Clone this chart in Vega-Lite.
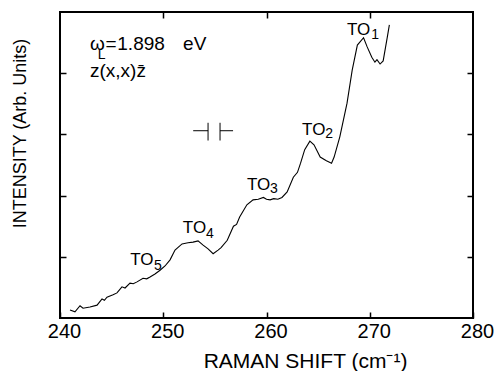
{
  "$schema": "https://vega.github.io/schema/vega-lite/v6.json",
  "width": 413,
  "height": 306,
  "autosize": "none",
  "padding": {"left": 60, "top": 12, "right": 22, "bottom": 53},
  "background": "white",
  "config": {
    "view": {"stroke": "black", "strokeWidth": 2},
    "font": "Liberation Sans",
    "axis": {
      "domain": false,
      "grid": false,
      "tickColor": "black",
      "tickWidth": 1.5,
      "tickSize": -6,
      "labelColor": "black",
      "labelFont": "Liberation Sans",
      "labelFontSize": 20,
      "titleFont": "Liberation Sans",
      "titleFontSize": 20,
      "titleFontWeight": "normal",
      "titleColor": "black"
    }
  },
  "datasets": {
    "spectrum": [
      {"shift": 240.97, "intensity": 0.13},
      {"shift": 241.45, "intensity": 0.10},
      {"shift": 241.94, "intensity": 0.20},
      {"shift": 242.23, "intensity": 0.16},
      {"shift": 242.9, "intensity": 0.18},
      {"shift": 243.59, "intensity": 0.21},
      {"shift": 244.07, "intensity": 0.31},
      {"shift": 244.3, "intensity": 0.29},
      {"shift": 244.55, "intensity": 0.34},
      {"shift": 244.84, "intensity": 0.36},
      {"shift": 245.14, "intensity": 0.38},
      {"shift": 245.52, "intensity": 0.41},
      {"shift": 246.0, "intensity": 0.51},
      {"shift": 246.3, "intensity": 0.49},
      {"shift": 246.78, "intensity": 0.57},
      {"shift": 247.1, "intensity": 0.56},
      {"shift": 247.46, "intensity": 0.59},
      {"shift": 248.04, "intensity": 0.65},
      {"shift": 248.4, "intensity": 0.64},
      {"shift": 248.72, "intensity": 0.67},
      {"shift": 249.2, "intensity": 0.72},
      {"shift": 249.69, "intensity": 0.78},
      {"shift": 250.17, "intensity": 0.85},
      {"shift": 250.66, "intensity": 0.95},
      {"shift": 251.14, "intensity": 1.11},
      {"shift": 251.82, "intensity": 1.21},
      {"shift": 252.4, "intensity": 1.23},
      {"shift": 252.89, "intensity": 1.24},
      {"shift": 253.37, "intensity": 1.26},
      {"shift": 253.86, "intensity": 1.19},
      {"shift": 254.34, "intensity": 1.13},
      {"shift": 254.83, "intensity": 1.05},
      {"shift": 255.31, "intensity": 1.11},
      {"shift": 255.6, "intensity": 1.15},
      {"shift": 256.2, "intensity": 1.27},
      {"shift": 256.8, "intensity": 1.5},
      {"shift": 257.1, "intensity": 1.53},
      {"shift": 257.4, "intensity": 1.65},
      {"shift": 258.1, "intensity": 1.85},
      {"shift": 258.7, "intensity": 1.93},
      {"shift": 259.2, "intensity": 1.94},
      {"shift": 259.7, "intensity": 1.97},
      {"shift": 260.0, "intensity": 1.94},
      {"shift": 260.35, "intensity": 1.93},
      {"shift": 260.7, "intensity": 1.95},
      {"shift": 261.1, "intensity": 1.94},
      {"shift": 261.5, "intensity": 1.97},
      {"shift": 262.0, "intensity": 2.06},
      {"shift": 262.6, "intensity": 2.3},
      {"shift": 263.0, "intensity": 2.38},
      {"shift": 263.3, "intensity": 2.53},
      {"shift": 263.7, "intensity": 2.75},
      {"shift": 264.2, "intensity": 2.89},
      {"shift": 264.6, "intensity": 2.83},
      {"shift": 265.2, "intensity": 2.63},
      {"shift": 265.8, "intensity": 2.57},
      {"shift": 266.3, "intensity": 2.53},
      {"shift": 266.55, "intensity": 2.63},
      {"shift": 267.1, "intensity": 2.96},
      {"shift": 267.8, "intensity": 3.51},
      {"shift": 268.3, "intensity": 4.05},
      {"shift": 268.8, "intensity": 4.46},
      {"shift": 269.4, "intensity": 4.58},
      {"shift": 269.75, "intensity": 4.43},
      {"shift": 270.2, "intensity": 4.26},
      {"shift": 270.5, "intensity": 4.18},
      {"shift": 270.7, "intensity": 4.22},
      {"shift": 271.0, "intensity": 4.15},
      {"shift": 271.3, "intensity": 4.2},
      {"shift": 271.7, "intensity": 4.59},
      {"shift": 271.9, "intensity": 4.79}
    ],
    "slit": [
      {"x": 252.9, "x2": 254.34, "y": 3.06, "y2": 3.06},
      {"x": 254.34, "x2": 254.34, "y": 2.9, "y2": 3.19},
      {"x": 255.5, "x2": 255.5, "y": 2.9, "y2": 3.19},
      {"x": 255.5, "x2": 256.76, "y": 3.06, "y2": 3.06}
    ],
    "labels": [
      {"x": 267.8, "y": 4.62, "text": "TO"},
      {"x": 263.45, "y": 2.99, "text": "TO"},
      {"x": 258.1, "y": 2.09, "text": "TO"},
      {"x": 251.9, "y": 1.39, "text": "TO"},
      {"x": 246.8, "y": 0.87, "text": "TO"}
    ],
    "notes": [
      {"x": 242.9, "y": 4.38, "text": "ω"},
      {"x": 244.4, "y": 4.38, "text": "="},
      {"x": 245.55, "y": 4.38, "text": "1.898"},
      {"x": 251.92, "y": 4.38, "text": "eV"},
      {"x": 242.9, "y": 3.94, "text": "z(x,x)z̄"}
    ],
    "subs": [
      {"x": 270.14, "y": 4.56, "text": "1"},
      {"x": 265.7, "y": 2.94, "text": "2"},
      {"x": 260.35, "y": 2.04, "text": "3"},
      {"x": 254.15, "y": 1.31, "text": "4"},
      {"x": 249.1, "y": 0.78, "text": "5"},
      {"x": 243.65, "y": 4.24, "text": "L"}
    ]
  },
  "resolve": {"axis": {"x": "independent", "y": "independent"}},
  "layer": [
    {
      "data": {"name": "spectrum"},
      "mark": {"type": "line", "color": "black", "strokeWidth": 1.1, "interpolate": "linear"},
      "encoding": {
        "x": {
          "field": "shift", "type": "quantitative",
          "scale": {"domain": [240, 280], "nice": false, "zero": false},
          "axis": {
            "values": [240, 250, 260, 270, 280],
            "title": "RAMAN SHIFT (cm⁻¹)",
            "titleFontSize": 21,
            "labelPadding": 9,
            "labelOffset": 4,
            "titleX": 245, "titleY": 49,
            "titleAlign": "center", "titleBaseline": "alphabetic",
            "labelFlush": false
          }
        },
        "y": {
          "field": "intensity", "type": "quantitative",
          "scale": {"domain": [0, 5], "nice": false, "zero": false},
          "axis": {
            "values": [1, 2, 3, 4],
            "labels": false,
            "title": "INTENSITY (Arb. Units)",
            "titleFontSize": 18,
            "titleX": -40, "titleY": 121,
            "titleAngle": 270, "titleAlign": "center", "titleBaseline": "middle"
          }
        }
      }
    },
    {
      "data": {"name": "slit"},
      "mark": {"type": "rule", "color": "black", "strokeWidth": 1},
      "encoding": {
        "x": {"field": "x", "type": "quantitative", "axis": {"orient": "top", "values": [250, 260, 270], "labels": false, "title": null}},
        "x2": {"field": "x2"},
        "y": {"field": "y", "type": "quantitative", "axis": {"orient": "right", "values": [1, 2, 3, 4], "labels": false, "title": null}},
        "y2": {"field": "y2"}
      }
    },
    {
      "data": {"name": "labels"},
      "mark": {"type": "text", "align": "left", "baseline": "alphabetic", "fontSize": 17, "font": "Liberation Sans", "color": "black"},
      "encoding": {
        "x": {"field": "x", "type": "quantitative", "axis": null},
        "y": {"field": "y", "type": "quantitative", "axis": null},
        "text": {"field": "text"}
      }
    },
    {
      "data": {"name": "notes"},
      "mark": {"type": "text", "align": "left", "baseline": "alphabetic", "fontSize": 19, "font": "Liberation Sans", "color": "black"},
      "encoding": {
        "x": {"field": "x", "type": "quantitative", "axis": null},
        "y": {"field": "y", "type": "quantitative", "axis": null},
        "text": {"field": "text"}
      }
    },
    {
      "data": {"name": "subs"},
      "mark": {"type": "text", "align": "left", "baseline": "alphabetic", "fontSize": 14, "font": "Liberation Sans", "color": "black"},
      "encoding": {
        "x": {"field": "x", "type": "quantitative", "axis": null},
        "y": {"field": "y", "type": "quantitative", "axis": null},
        "text": {"field": "text"}
      }
    }
  ]
}
